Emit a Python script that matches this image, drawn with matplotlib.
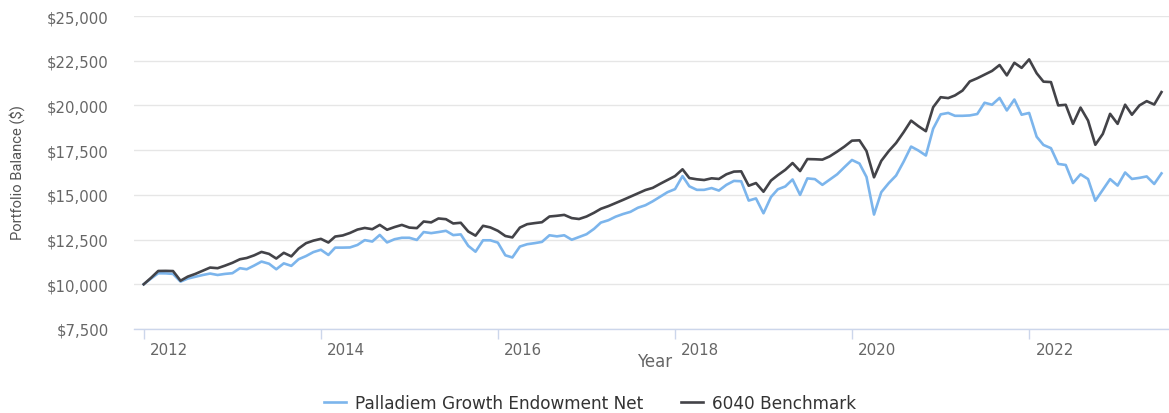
import numpy as np
import pandas as pd
import matplotlib
matplotlib.use("Agg")
import matplotlib.pyplot as plt
import matplotlib.dates as mdates
import matplotlib.transforms as mtransforms
from matplotlib.ticker import StrMethodFormatter

# monthly balances (month-end), growth of $10,000
start_month = "2011-12-31"

palladiem = [
    10000, 10330, 10615, 10610, 10580, 10150, 10320, 10420, 10520, 10600,
    10520, 10580, 10620, 10900, 10840, 11050, 11270, 11150, 10840, 11170,
    11030, 11400, 11580, 11800, 11930, 11640, 12050, 12050, 12060, 12200,
    12470, 12390, 12760, 12340, 12520, 12600, 12600, 12480, 12920, 12860,
    12920, 12990, 12750, 12790, 12150, 11820, 12460, 12460, 12330, 11620,
    11500, 12110, 12240, 12300, 12370, 12740, 12680, 12740, 12490, 12640,
    12800, 13100, 13450, 13580, 13780, 13930, 14050, 14280, 14420, 14640,
    14900, 15150, 15320, 16050, 15480, 15280, 15280, 15380, 15240, 15560,
    15780, 15760, 14680, 14800, 13970, 14880, 15310, 15470, 15860, 15000,
    15920, 15880, 15560, 15850, 16150, 16550, 16950, 16750, 16000, 13900,
    15150, 15660, 16080, 16850, 17700, 17480, 17200, 18700, 19500, 19580,
    19420, 19420, 19440, 19520, 20150, 20040, 20420, 19720, 20330, 19480,
    19580, 18250, 17790, 17610, 16730, 16670, 15660, 16150, 15885, 14670,
    15285, 15880, 15520, 16250, 15890, 15950, 16030, 15610, 16200,
]

benchmark = [
    10000, 10370, 10745, 10750, 10740, 10200, 10430, 10580, 10760, 10935,
    10900, 11040, 11200, 11400, 11470, 11620, 11810, 11700, 11440, 11760,
    11560, 12000, 12300, 12440, 12540, 12335, 12670, 12730, 12870, 13060,
    13150, 13080, 13320, 13050, 13200, 13320, 13170, 13140, 13510, 13460,
    13680, 13640, 13400, 13440, 12950, 12720, 13270, 13180, 12990, 12700,
    12620, 13170, 13360, 13420, 13470, 13790, 13830, 13880, 13700, 13650,
    13790, 14000, 14220, 14370, 14540, 14720, 14900, 15080, 15270, 15390,
    15620, 15830, 16050, 16430, 15940, 15870, 15830, 15925, 15890, 16150,
    16300, 16315, 15510, 15660, 15175, 15800, 16100, 16400, 16780, 16330,
    17000, 16990, 16970, 17150, 17420, 17700, 18030, 18050, 17450, 15980,
    16900, 17450, 17900, 18500, 19150, 18840, 18560, 19900, 20460, 20410,
    20560, 20830, 21340, 21520, 21720, 21930, 22260, 21680, 22385, 22100,
    22575, 21800, 21330, 21305, 20000, 20035, 18970, 19880, 19155, 17800,
    18410, 19530, 18970, 20040, 19480, 20000, 20240, 20050, 20745,
]

series_names = ["Palladiem Growth Endowment Net", "6040 Benchmark"]
y_ticks = [7500, 10000, 12500, 15000, 17500, 20000, 22500, 25000]
x_tick_years = [2012, 2014, 2016, 2018, 2020, 2022]


def plot(dates, pal, bench):
	fig = plt.figure(figsize=(11.69, 4.14), dpi=100)
	ax = fig.add_axes([134 / 1169, 1 - 330 / 414, 1 - 134 / 1169, 313 / 414])

	l1, = ax.plot(dates, pal, color="#7cb5ec", lw=1.9, solid_joinstyle="round")
	l2, = ax.plot(dates, bench, color="#434348", lw=1.9, solid_joinstyle="round")

	ax.set_ylim(y_ticks[0], y_ticks[-1])
	ax.set_yticks(y_ticks)
	ax.yaxis.set_major_formatter(StrMethodFormatter("${x:,.0f}"))
	ax.set_xlim(pd.Timestamp("2011-11-21"), pd.Timestamp("2023-07-31"))
	ax.set_xticks([pd.Timestamp(f"{y}-01-01") for y in x_tick_years])
	ax.xaxis.set_major_formatter(mdates.DateFormatter("%Y"))

	ax.grid(axis="y", color="#e6e6e6", lw=1)
	ax.set_axisbelow(True)
	for s in ["top", "right", "left"]:
		ax.spines[s].set_visible(False)
	ax.spines["bottom"].set_color("#ccd6eb")
	ax.spines["bottom"].set_linewidth(1)

	ax.tick_params(axis="y", length=0, pad=18, labelsize=10.7, labelcolor="#666666")
	ax.tick_params(axis="x", length=7.2, width=1, color="#ccd6eb", pad=2,
		labelsize=10.8, labelcolor="#666666")
	shift = mtransforms.ScaledTranslation(6 / 100, 0, fig.dpi_scale_trans)
	for lab in ax.get_xticklabels():
		lab.set_horizontalalignment("left")
		lab.set_transform(lab.get_transform() + shift)

	fig.text(655 / 1169, 1 - 362 / 414, "Year", ha="center", va="center",
		fontsize=12, color="#666666")
	fig.text(17 / 1169, 1 - 173 / 414, "Portfolio Balance ($)", rotation=90,
		ha="center", va="center", fontsize=10.6, color="#555555",
		family=["Roboto", "DejaVu Sans"])

	fig.legend([l1, l2], series_names, loc="center", ncol=2,
		bbox_to_anchor=(590 / 1169, 1 - 404 / 414), frameon=False,
		fontsize=12.2, labelcolor="#333333", handlelength=1.3,
		handletextpad=0.55, columnspacing=2.2)

	fig.savefig("out.png", dpi=100)


def get_data():
	dates = pd.date_range(start_month, periods=len(palladiem), freq="ME")
	return dates, np.array(palladiem), np.array(benchmark)


def main():
	dates, pal, bench = get_data()
	plot(dates, pal, bench)


if __name__ == "__main__":
	main()
